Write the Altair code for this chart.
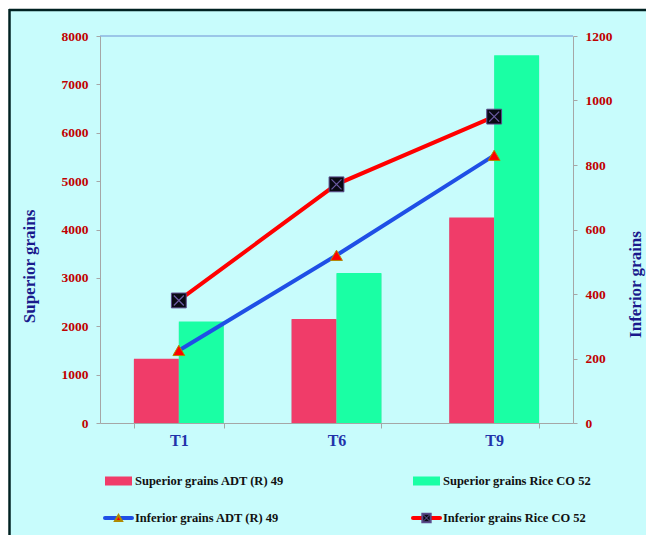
import altair as alt
import pandas as pd

# ---- data ----
treatments = ["T1", "T6", "T9"]
bar_series = ["Superior grains ADT (R) 49", "Superior grains Rice CO 52"]
sup_adt = [1330, 2150, 4250]
sup_co52 = [2100, 3100, 7600]
line_series = ["Inferior grains ADT (R) 49", "Inferior grains Rice CO 52"]
inf_adt = [225, 520, 830]
inf_co52 = [380, 740, 950]
left_ticks = [0, 1000, 2000, 3000, 4000, 5000, 6000, 7000, 8000]
right_ticks = [0, 200, 400, 600, 800, 1000, 1200]

FONT = "Liberation Serif"
RED_BAR = "#F03C69"
GREEN_BAR = "#1AFFA4"
BLUE_LINE = "#1F4FE6"
RED_LINE = "#FF0000"
BG = "#C8FCFC"
GRAY = "#A6A6A6"

bars_df = pd.DataFrame({
    "Treatment": treatments * 2,
    "Series": [bar_series[0]] * 3 + [bar_series[1]] * 3,
    "Value": sup_adt + sup_co52,
})
adt_df = pd.DataFrame({"Treatment": treatments, "Value": inf_adt})
co_df = pd.DataFrame({"Treatment": treatments, "Value": inf_co52})

one = pd.DataFrame({"k": [0]})

W, H = 473, 387

# ---- background + frame ----
bg = alt.Chart(one).mark_rect(fill=BG).encode(
    x=alt.value(-91), x2=alt.value(560), y=alt.value(-27), y2=alt.value(520)
)
frame_left = alt.Chart(one).mark_rule(color="#002222", strokeWidth=2.5).encode(
    x=alt.value(-90.5), y=alt.value(-27), y2=alt.value(520)
)
frame_top = alt.Chart(one).mark_rule(color="#002222", strokeWidth=2.5).encode(
    y=alt.value(-26), x=alt.value(-91), x2=alt.value(560)
)
top_line = alt.Chart(one).mark_rule(color="#8DB4E2", strokeWidth=1.5).encode(
    y=alt.value(0), x=alt.value(0), x2=alt.value(W)
)

# ---- bars ----
xaxis = alt.Axis(
    title=None, labelAngle=0, labelFont=FONT, labelFontSize=16,
    labelFontWeight="bold", labelColor="#2233AA", labelPadding=4,
    tickBand="extent", tickSize=5, tickColor=GRAY, domainColor=GRAY,
    zindex=1,
)
xenc = alt.X(
    "Treatment:N", sort=treatments,
    scale=alt.Scale(paddingInner=0.43, paddingOuter=0.215),
    axis=xaxis,
)
yleft = alt.Y(
    "Value:Q",
    scale=alt.Scale(domain=[0, 8000]),
    axis=alt.Axis(
        values=left_ticks, format="d", grid=False, title="Superior grains",
        labelFont=FONT, labelFontSize=13.5, labelFontWeight="bold",
        labelColor="#C00000", labelPadding=8, tickSize=4, tickColor=GRAY,
        domainColor=GRAY, titleFont=FONT, titleFontSize=17,
        titleFontWeight="bold", titleColor="#1A1A8C", titleAngle=270,
        titleX=-71, titleY=230, titleAlign="center", titleBaseline="middle",
        zindex=1,
    ),
)
bar_base = alt.Chart(bars_df).encode(
    x=xenc,
    xOffset=alt.XOffset("Series:N", sort=bar_series),
    y=yleft,
)
shadow = bar_base.mark_bar(color="#4A6A6A", opacity=0.3, xOffset=3, yOffset=1)
bars = bar_base.mark_bar().encode(
    color=alt.Color("Series:N", scale=alt.Scale(domain=bar_series, range=[RED_BAR, GREEN_BAR]), legend=None)
)
bars_group = alt.layer(shadow, bars)

# ---- lines ----
yright = alt.Y(
    "Value:Q",
    scale=alt.Scale(domain=[0, 1200]),
    axis=alt.Axis(
        orient="right", values=right_ticks, format="d", grid=False, title="Inferior grains",
        labelFont=FONT, labelFontSize=13.5, labelFontWeight="bold",
        labelColor="#C00000", labelPadding=8, tickSize=4, tickColor=GRAY,
        domainColor=GRAY, titleFont=FONT, titleFontSize=17,
        titleFontWeight="bold", titleColor="#1A1A8C", titleAngle=270,
        titleX=62, titleY=248, titleAlign="center", titleBaseline="middle",
        zindex=1,
    ),
)
adt_base = alt.Chart(adt_df).encode(x=xenc, y=yright)
co_base = alt.Chart(co_df).encode(x=xenc, y=yright)
adt_line = adt_base.mark_line(color=BLUE_LINE, strokeWidth=4)
co_line = co_base.mark_line(color=RED_LINE, strokeWidth=4)
adt_pts = adt_base.mark_point(shape="triangle-up", filled=True, fill="#FF0000",
                              stroke="#B08A00", strokeWidth=1, size=140, opacity=1)
co_sq = co_base.mark_point(shape="square", filled=True, fill="#0A0A14",
                           stroke="#5A4A8A", strokeWidth=1, size=220, opacity=1)
co_x = co_base.mark_point(shape="M-1,-1L1,1M1,-1L-1,1", filled=False,
                          stroke="#6A5AA0", strokeWidth=1.3, size=100, opacity=1)
lines_group = alt.layer(adt_line, co_line, adt_pts, co_sq, co_x)

# ---- manual legend ----
def legend_text(label, x, y):
    return alt.Chart(pd.DataFrame({"label": [label]})).mark_text(
        align="left", baseline="middle", font=FONT, fontSize=12.5,
        fontWeight="bold", color="#111111"
    ).encode(x=alt.value(x), y=alt.value(y), text="label:N")

def legend_rect(color, x1, x2, y):
    return alt.Chart(one).mark_rect(fill=color).encode(
        x=alt.value(x1), x2=alt.value(x2), y=alt.value(y - 4.5), y2=alt.value(y + 4.5)
    )

def legend_rule(color, x1, x2, y):
    return alt.Chart(one).mark_rule(color=color, strokeWidth=4, strokeCap="round").encode(
        x=alt.value(x1), x2=alt.value(x2), y=alt.value(y)
    )

r1, r2 = 445, 482
legend = [
    legend_rect(RED_BAR, 5, 32, r1), legend_text(bar_series[0], 35, r1),
    legend_rect(GREEN_BAR, 313, 340, r1), legend_text(bar_series[1], 343, r1),
    legend_rule(BLUE_LINE, 5, 32, r2),
    alt.Chart(one).mark_point(shape="triangle-up", filled=True, fill="#FF0000",
                              stroke="#B08A00", size=50, opacity=1).encode(
        x=alt.value(18.5), y=alt.value(r2)),
    legend_text(line_series[0], 35, r2),
    legend_rule(RED_LINE, 313, 340, r2),
    alt.Chart(one).mark_point(shape="square", filled=True, fill="#0A0A14",
                              stroke="#5A4A8A", size=70, opacity=1).encode(
        x=alt.value(326.5), y=alt.value(r2)),
    alt.Chart(one).mark_point(shape="M-1,-1L1,1M1,-1L-1,1", filled=False,
                              stroke="#6A5AA0", strokeWidth=1, size=35, opacity=1).encode(
        x=alt.value(326.5), y=alt.value(r2)),
    legend_text(line_series[1], 343, r2),
]

chart = alt.layer(
    bg, frame_left, frame_top, bars_group, lines_group, top_line, *legend
).resolve_scale(
    y="independent"
).properties(
    width=W, height=H,
    autosize=alt.AutoSizeParams(type="none"),
    padding={"left": 100, "top": 36, "right": 73, "bottom": 112},
    background="white",
).configure_view(stroke=None)

chart.save("out.html", embed_options={"renderer": "svg", "actions": False})
